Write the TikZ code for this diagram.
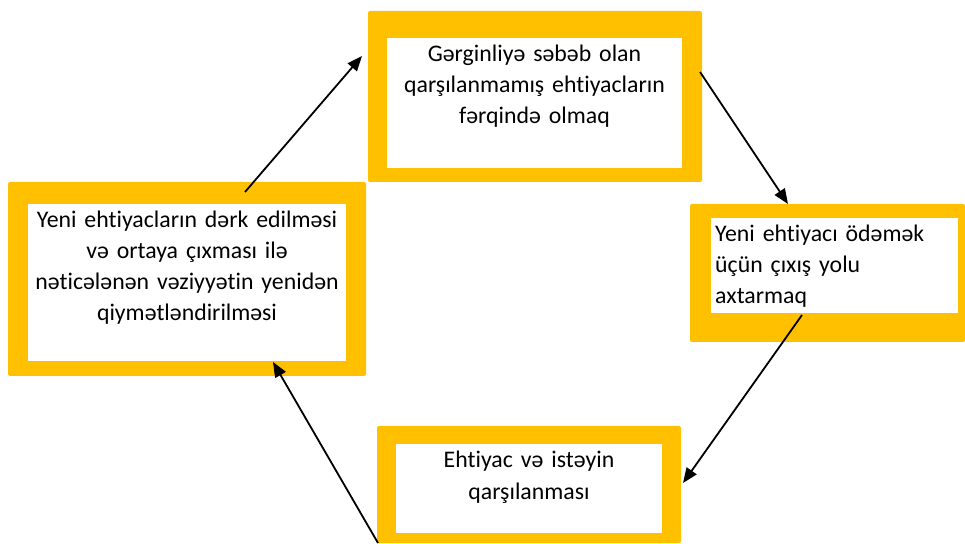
\documentclass[tikz,border=0pt]{standalone}
\usepackage{fontspec}
\setmainfont{Carlito}[RawFeature={-liga}]
\usetikzlibrary{arrows.meta}
\definecolor{frameorange}{HTML}{FFC000}
\begin{document}
\begin{tikzpicture}[x=1pt,y=1pt,
  frame/.style={fill=frameorange,draw=none,rounded corners=2pt},
  pane/.style={fill=white,draw=none},
  label/.style={inner sep=0pt,anchor=base,font=\fontsize{23.8}{31}\selectfont},
  flow/.style={line width=1.8pt,-{Triangle[length=15pt,width=12pt]}}]
\useasboundingbox (0,0) rectangle (965,543);
% outer frames
\path[frame] (368,361) rectangle (702,532);
\path[frame] (690,201) rectangle (965,339);
\path[frame] (8,167) rectangle (366,361);
\path[frame] (377,0) rectangle (681,117);
% white panes
\path[pane] (387,375) rectangle (682,505);
\path[pane] (711,230) rectangle (958,325);
\path[pane] (28,182) rectangle (346,339);
\path[pane] (396,10) rectangle (662,99);
% texts
\node[label,text width=290pt,align=center] (aware) at (534.5,481)
  {Gərginliyə səbəb olan\\qarşılanmamış ehtiyacların\\fərqində olmaq};
\node[label,text width=240pt,align=left,anchor=base west] (search) at (715,301)
  {Yeni ehtiyacı ödəmək\\üçün çıxış yolu\\axtarmaq};
\node[label,text width=314pt,align=center] (reeval) at (187,315)
  {Yeni ehtiyacların dərk edilməsi\\və ortaya çıxması ilə\\nəticələnən vəziyyətin yenidən\\qiymətləndirilməsi};
\node[label,text width=260pt,align=center] (satisfy) at (529,75)
  {Ehtiyac və istəyin\\qarşılanması};
% connector end points
\coordinate (a1) at (245,351); \coordinate (a2) at (362,487);
\coordinate (b1) at (700,471); \coordinate (b2) at (788,339);
\coordinate (c1) at (802,228); \coordinate (c2) at (683,60);
\coordinate (d1) at (378,0);   \coordinate (d2) at (273,181);
\draw[flow] (a1) -- (a2);
\draw[flow] (b1) -- (b2);
\draw[flow] (c1) -- (c2);
\draw[flow] (d1) -- (d2);
\end{tikzpicture}
\end{document}
